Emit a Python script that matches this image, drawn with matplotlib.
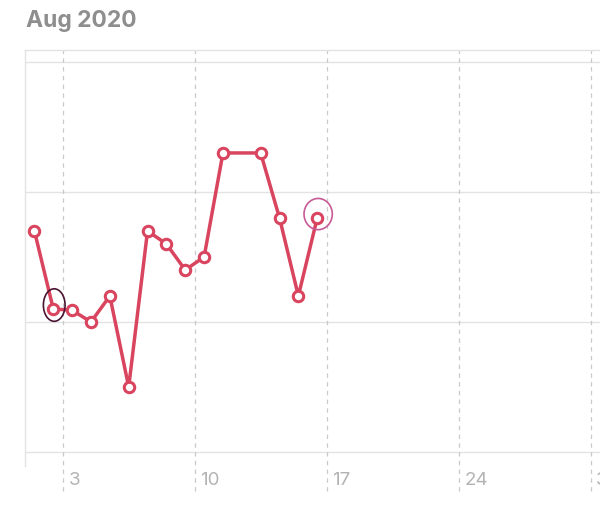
import matplotlib
matplotlib.use("Agg")
import matplotlib.pyplot as plt
from matplotlib.patches import Ellipse

# Daily readings, Aug 2020 (day 12 missing)
days = [1, 2, 3, 4, 5, 6, 7, 8, 9, 10, 11, 13, 14, 15, 16]
values = [1.70, 1.10, 1.09, 1.00, 1.20, 0.50, 1.70, 1.60, 1.40, 1.50,
          2.30, 2.30, 1.80, 1.20, 1.80]
week_ticks = [3, 10, 17, 24, 31]
week_labels = ["3", "10", "17", "24", "3"]
grid_levels = [0, 1, 2, 3]
# hand-drawn highlight marks: (day, value, width, height, colour)
highlights = [(2, 1.11, 1.15, 0.25, "#4a1432"),
              (16, 1.81, 1.5, 0.24, "#c85a96")]

LINE = "#d9445f"
GRID = "#e3e3e3"
VGRID = "#c9c9c9"
LABEL = "#b3b3b3"

plt.rcParams["font.family"] = ["Inter", "DejaVu Sans"]

fig = plt.figure(figsize=(6.0, 5.06), dpi=100)
W, H = 600, 506
ax = fig.add_axes([25 / W, (H - 467) / H, 575 / W, (467 - 51) / H])
ax.set_xlim(1, 31.5)
ax.set_ylim(-0.108, 3.092)

for s in ["right", "bottom"]:
    ax.spines[s].set_visible(False)
for s in ["left", "top"]:
    ax.spines[s].set_color(GRID)
    ax.spines[s].set_linewidth(1.0)
ax.set_xticks([])
ax.set_yticks([])

for g in grid_levels:
    ax.axhline(g, color=GRID, lw=1.0, zorder=1)

for d, lab in zip(week_ticks, week_labels):
    ax.plot([d, d], [-0.30, 3.092], color=VGRID, lw=0.9,
            ls=(0, (3.5, 3.5)), clip_on=False, zorder=1)
    ax.text(d + 0.3, -0.21, lab, color=LABEL, fontsize=13.5,
            ha="left", va="center", clip_on=False)

xs = [d + 0.5 for d in days]
ax.plot(xs, values, color=LINE, lw=2.5, zorder=3,
        marker="o", markersize=7.5, markerfacecolor="white",
        markeredgecolor=LINE, markeredgewidth=2.2)

for d, v, w, h, c in highlights:
    ax.add_patch(Ellipse((d + 0.55, v + 0.02), w, h, fill=False,
                         edgecolor=c, lw=1.2, zorder=4))

fig.text(26 / W, 1 - 21 / H, "Aug 2020", color="#8e8e8e", fontsize=16.5,
         fontweight="bold", ha="left", va="center")

fig.savefig("out.png", dpi=100)
